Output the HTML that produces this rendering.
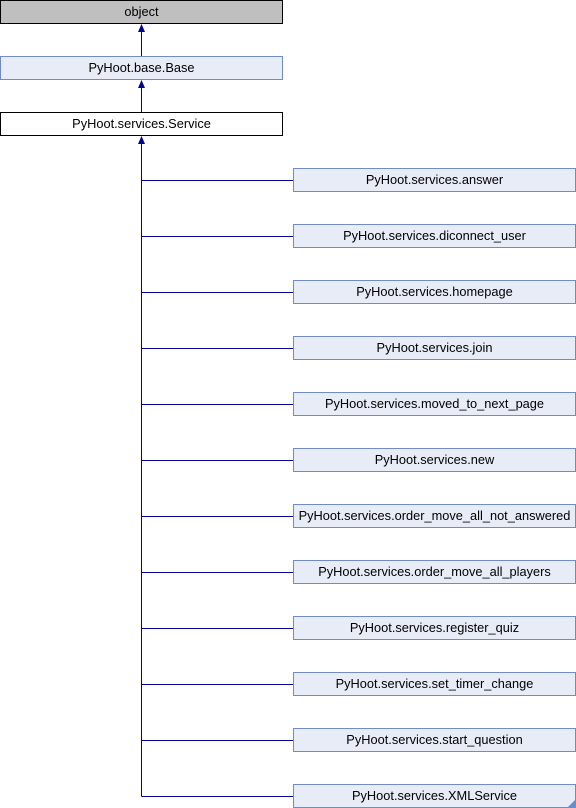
<!DOCTYPE html>
<html><head><meta charset="utf-8"><style>
html,body{margin:0;padding:0;background:#fff;}
svg{display:block;}
text{font-family:"Liberation Sans",Arial,sans-serif;font-size:12.8px;fill:#000;}
</style></head><body>
<svg width="576" height="808" viewBox="0 0 576 808" xmlns="http://www.w3.org/2000/svg">
<rect x="0.5" y="0.5" width="282" height="23" fill="#bfbfbf" stroke="#000"/>
<text x="141.5" y="16" text-anchor="middle">object</text>
<rect x="0.5" y="56.5" width="282" height="23" fill="#e8ecf6" stroke="#6f8bc8"/>
<text x="141.5" y="72" text-anchor="middle">PyHoot.base.Base</text>
<rect x="0.5" y="112.5" width="282" height="23" fill="#fff" stroke="#000"/>
<text x="141.5" y="128" text-anchor="middle">PyHoot.services.Service</text>
<g stroke="#000099" stroke-width="1" fill="none">
<line x1="141.5" y1="56" x2="141.5" y2="30"/>
<line x1="141.5" y1="112" x2="141.5" y2="86"/>
<line x1="141.5" y1="796.5" x2="141.5" y2="142"/>
</g>
<g fill="#000099">
<polygon points="141.5,24 138,32 145,32"/>
<polygon points="141.5,80 138,88 145,88"/>
<polygon points="141.5,136 138,144 145,144"/>
</g>
<g id="kids"></g>
</svg>
<script>
var names=["answer","diconnect_user","homepage","join","moved_to_next_page","new","order_move_all_not_answered","order_move_all_players","register_quiz","set_timer_change","start_question","XMLService"];
var g=document.getElementById("kids"),s="";
names.forEach(function(n,i){var y=168+56*i;
s+='<line x1="141.5" y1="'+(y+12.5)+'" x2="293" y2="'+(y+12.5)+'" stroke="#000099"/>';
s+='<rect x="293.5" y="'+(y+0.5)+'" width="282" height="23" fill="#e8ecf6" stroke="#6f8bc8"/>';
s+='<text x="434.5" y="'+(y+16)+'" text-anchor="middle">PyHoot.services.'+n+'</text>';});
s+='<polygon points="575,800 575,807 568,807" fill="#6f8bc8"/>';
g.innerHTML=s;
</script>
</body></html>
